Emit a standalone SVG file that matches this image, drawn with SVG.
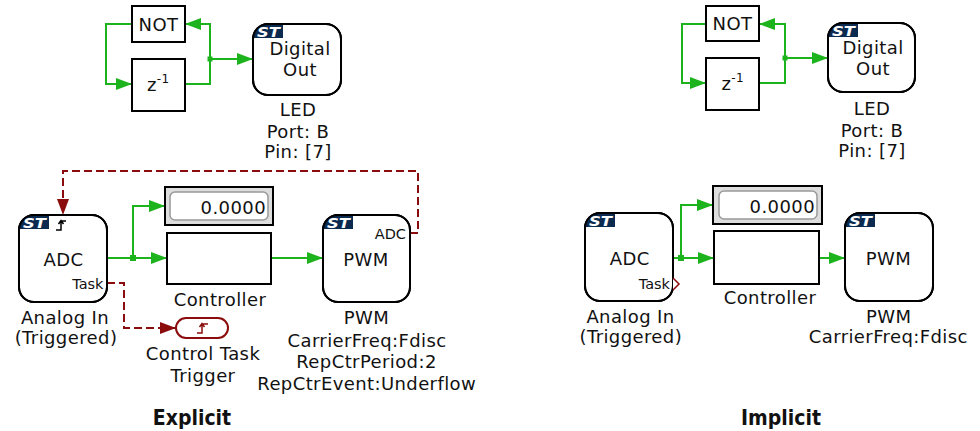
<svg xmlns="http://www.w3.org/2000/svg" width="980" height="431" viewBox="0 0 980 431">
<defs>
<style>
.blk{fill:#fff;stroke:#000;stroke-width:2}
.frame{fill:none;stroke:#000;stroke-width:2}
.lbl{font-family:"DejaVu Sans",Verdana,sans-serif;font-size:18px;letter-spacing:0.4px;fill:#111;text-anchor:middle}
.port{font-size:14.5px;letter-spacing:0;text-anchor:end}
.sig{fill:none;stroke:#1db31d;stroke-width:2}
.trig{fill:none;stroke:#8b0c0c;stroke-width:2;stroke-dasharray:8 4}
.badge{fill:#0b2a4f}
.st{font-family:"DejaVu Sans",sans-serif;font-weight:bold;font-style:italic;font-size:14px;fill:#fff}
.sym{fill:none;stroke:#000;stroke-width:1.5}
.title{font-family:"DejaVu Sans Condensed","DejaVu Sans",sans-serif;font-stretch:condensed;font-weight:bold;font-size:21px;fill:#111;text-anchor:middle}
.disp{fill:#ddd;stroke:#000;stroke-width:2}
.dispin{fill:#fff;stroke:#999;stroke-width:1.5}
.jn{fill:#1db31d}
</style>
<marker id="ag" markerUnits="userSpaceOnUse" markerWidth="16" markerHeight="12" refX="16" refY="6" orient="auto"><path d="M0,0 L16,6 L0,12 Z" fill="#1db31d"/></marker>
<marker id="ar" markerUnits="userSpaceOnUse" markerWidth="16" markerHeight="12" refX="16" refY="6" orient="auto"><path d="M0,0 L16,6 L0,12 Z" fill="#8b0c0c"/></marker>
<g id="stbadge"><path class="badge" d="M15,0 A15,15 0 0 0 0,14 H30 V0 Z"/><text class="st" x="4" y="12.5" textLength="23" lengthAdjust="spacingAndGlyphs">ST</text></g>
</defs>
<rect width="980" height="431" fill="#fff"/>

<!-- connectors -->
<g id="connectors">
<path class="sig" d="M132,24 H106 V84 H132" marker-end="url(#ag)"/>
<path class="sig" d="M185,84 H210 V24 H185" marker-end="url(#ag)"/>
<path class="sig" d="M210,59 H253" marker-end="url(#ag)"/>
<rect class="jn" x="207.5" y="56.5" width="5" height="5"/>
<path class="sig" d="M107,258 H167" marker-end="url(#ag)"/>
<path class="sig" d="M133,258 V206 H165" marker-end="url(#ag)"/>
<rect class="jn" x="130" y="255" width="6" height="6"/>
<path class="sig" d="M271,258 H323" marker-end="url(#ag)"/>
<path class="trig" d="M410,233 H418 V171 H63 V215" marker-end="url(#ar)"/>
<path class="trig" d="M107,283 H124 V328 H176" marker-end="url(#ar)"/>

<path class="sig" d="M706,24 H682 V83 H706" marker-end="url(#ag)"/>
<path class="sig" d="M759,83 H785 V24 H759" marker-end="url(#ag)"/>
<path class="sig" d="M785,58 H828" marker-end="url(#ag)"/>
<rect class="jn" x="782.5" y="55.5" width="5" height="5"/>
<path class="sig" d="M673,258 H714" marker-end="url(#ag)"/>
<path class="sig" d="M681,258 V205 H713" marker-end="url(#ag)"/>
<rect class="jn" x="678" y="255" width="6" height="6"/>
<path class="sig" d="M819,258 H845" marker-end="url(#ag)"/>
</g>

<!-- Explicit -->
<g id="not-l"><rect class="blk" x="132" y="6" width="53" height="36"/><text class="lbl" x="158.5" y="30.5">NOT</text></g>
<g id="delay-l"><rect class="blk" x="132" y="59" width="53" height="52"/><text class="lbl" x="147" y="91" style="text-anchor:start">z<tspan font-size="12" dy="-8">-1</tspan></text></g>
<g id="dout-l">
<rect class="blk" x="253" y="24" width="88" height="71" rx="15"/>
<use href="#stbadge" x="253" y="24"/>
<rect class="frame" x="253" y="24" width="88" height="71" rx="15"/>
<text class="lbl" x="300" y="55">Digital</text><text class="lbl" x="300" y="76">Out</text>
<text class="lbl" x="298" y="116">LED</text><text class="lbl" x="298" y="137.5">Port: B</text><text class="lbl" x="298" y="157.5">Pin: [7]</text>
</g>
<g id="adc-l">
<rect class="blk" x="19" y="215" width="88" height="87" rx="15"/>
<use href="#stbadge" x="19" y="215"/>
<rect class="frame" x="19" y="215" width="88" height="87" rx="15"/>
<path class="sym" d="M56,230 H61 V221 H66 M58.5,224 L61,220.5 L63.5,224"/>
<text class="lbl" x="63.5" y="266">ADC</text>
<text class="lbl port" x="103.5" y="289">Task</text>
<text class="lbl" x="65" y="323.5">Analog In</text><text class="lbl" x="66" y="344">(Triggered)</text>
</g>
<g id="disp-l"><rect class="disp" x="165" y="187" width="108" height="38"/><rect class="dispin" x="170" y="192" width="98" height="28" rx="5"/><text class="lbl" x="266" y="214" style="text-anchor:end">0.0000</text></g>
<g id="ctrl-l"><rect class="blk" x="167" y="233" width="104" height="51"/><text class="lbl" x="220" y="306">Controller</text></g>
<g id="pwm-l">
<rect class="blk" x="323" y="215" width="87" height="87" rx="15"/>
<use href="#stbadge" x="323" y="215"/>
<rect class="frame" x="323" y="215" width="87" height="87" rx="15"/>
<text class="lbl port" x="406" y="238.5">ADC</text>
<text class="lbl" x="366" y="266">PWM</text>
<text class="lbl" x="366.5" y="324">PWM</text>
<text class="lbl" x="367" y="346.5">CarrierFreq:Fdisc</text>
<text class="lbl" x="366.5" y="368">RepCtrPeriod:2</text>
<text class="lbl" x="366.7" y="389.5">RepCtrEvent:Underflow</text>
</g>
<g id="trig-l">
<rect x="176" y="318" width="52" height="20" rx="10" fill="#fff" stroke="#8b0c0c" stroke-width="2"/>
<path class="sym" style="stroke:#8b0c0c" d="M197,333 H202 V324 H208 M199.5,327 L202,323.5 L204.5,327"/>
<text class="lbl" x="203" y="360">Control Task</text><text class="lbl" x="203" y="382">Trigger</text>
</g>
<text class="title" x="192" y="424.5">Explicit</text>

<!-- Implicit -->
<g id="not-r"><rect class="blk" x="706" y="6" width="53" height="35"/><text class="lbl" x="732.5" y="30">NOT</text></g>
<g id="delay-r"><rect class="blk" x="706" y="58" width="53" height="52"/><text class="lbl" x="721.5" y="90" style="text-anchor:start">z<tspan font-size="12" dy="-8">-1</tspan></text></g>
<g id="dout-r">
<rect class="blk" x="828" y="23" width="87" height="69" rx="15"/>
<use href="#stbadge" x="828" y="23"/>
<rect class="frame" x="828" y="23" width="87" height="69" rx="15"/>
<text class="lbl" x="873" y="54">Digital</text><text class="lbl" x="873" y="75">Out</text>
<text class="lbl" x="872" y="115">LED</text><text class="lbl" x="872" y="136.5">Port: B</text><text class="lbl" x="872" y="156.5">Pin: [7]</text>
</g>
<g id="adc-r">
<rect class="blk" x="585" y="213" width="88" height="88" rx="15"/>
<use href="#stbadge" x="585" y="213"/>
<rect class="frame" x="585" y="213" width="88" height="88" rx="15"/>
<text class="lbl" x="629.7" y="265">ADC</text>
<text class="lbl port" x="670" y="289">Task</text>
<polyline points="673,278 679,284 673,290" fill="#fff" stroke="#8b0c0c" stroke-width="1.5"/>
<text class="lbl" x="630.5" y="322.7">Analog In</text><text class="lbl" x="630.8" y="343.3">(Triggered)</text>
</g>
<g id="disp-r"><rect class="disp" x="713" y="186" width="109" height="38"/><rect class="dispin" x="719" y="191" width="98" height="28" rx="5"/><text class="lbl" x="815" y="213" style="text-anchor:end">0.0000</text></g>
<g id="ctrl-r"><rect class="blk" x="714" y="231" width="105" height="53"/><text class="lbl" x="770" y="304">Controller</text></g>
<g id="pwm-r">
<rect class="blk" x="845" y="213" width="88" height="88" rx="15"/>
<use href="#stbadge" x="845" y="213"/>
<rect class="frame" x="845" y="213" width="88" height="88" rx="15"/>
<text class="lbl" x="888.5" y="265">PWM</text>
<text class="lbl" x="888.7" y="322.7">PWM</text>
<text class="lbl" x="888.3" y="343.3">CarrierFreq:Fdisc</text>
</g>
<text class="title" x="781" y="424.5">Implicit</text>
</svg>
